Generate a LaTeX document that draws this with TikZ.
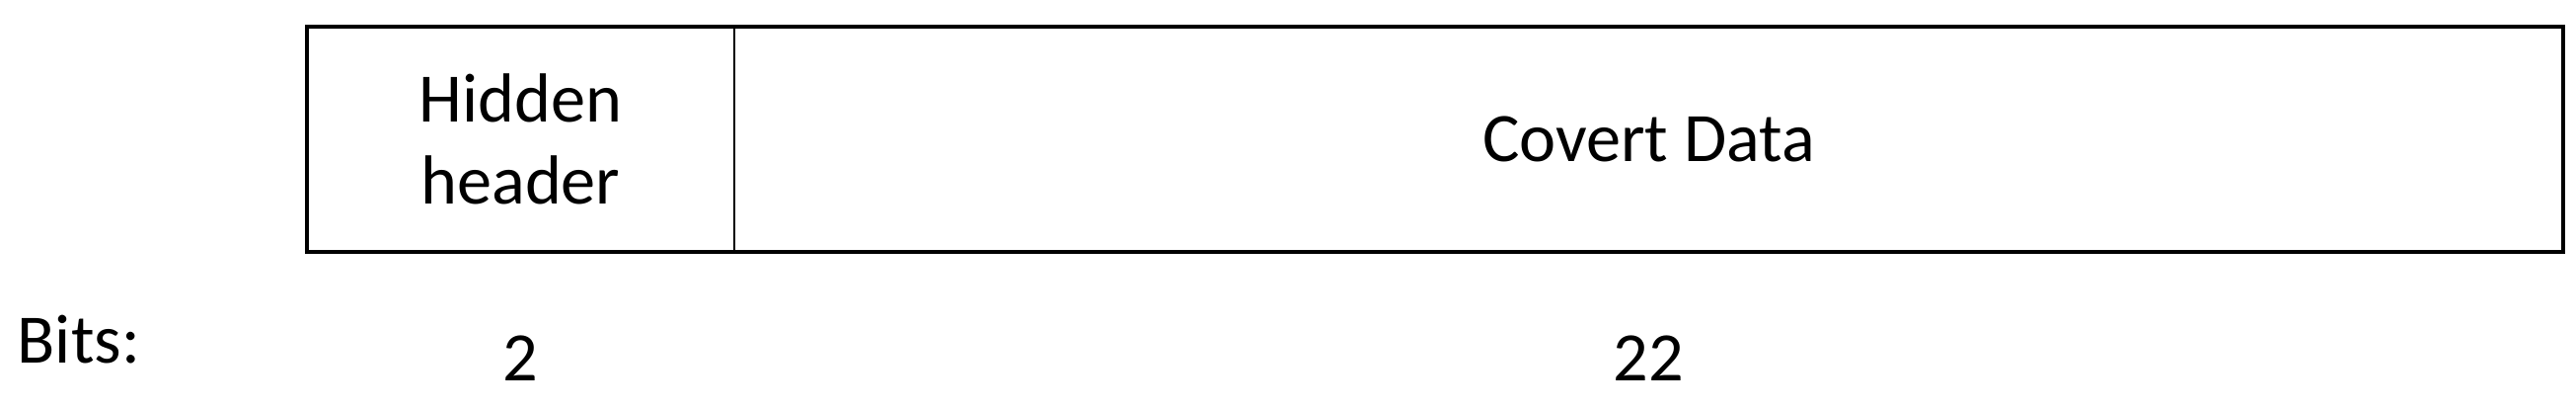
\documentclass[tikz,border=0pt]{standalone}
\usepackage{fontspec}
\setmainfont{Carlito}
\usetikzlibrary{positioning}

\tikzset{
  frame/.style={line width=1.2pt},
  divider/.style={line width=0.7pt},
  fieldtext/.style={font=\fontsize{20}{23.5}\selectfont, align=center, inner sep=0pt}
}

\begin{document}
\begin{tikzpicture}
    \useasboundingbox (0,0) rectangle (26.1,4.14);

    % Draw packet frame
    \draw[frame] (3.11,1.59) rectangle (25.97,3.87);
    \draw[divider] (7.44,1.59) -- (7.44,3.87);

    % Field names
    \node[fieldtext] (hidden) at (5.275,2.73) {Hidden\\header};
    \node[fieldtext] (covert) at (16.705,2.73) {Covert Data};

    % Bit counts
    \node[fieldtext,anchor=base west] (bits) at (0.17,0.46) {Bits:};
    \node[fieldtext,anchor=base] (nhidden) at (5.275,0.28) {2};
    \node[fieldtext,anchor=base] (ncovert) at (16.705,0.28) {22};

\end{tikzpicture}
\end{document}
